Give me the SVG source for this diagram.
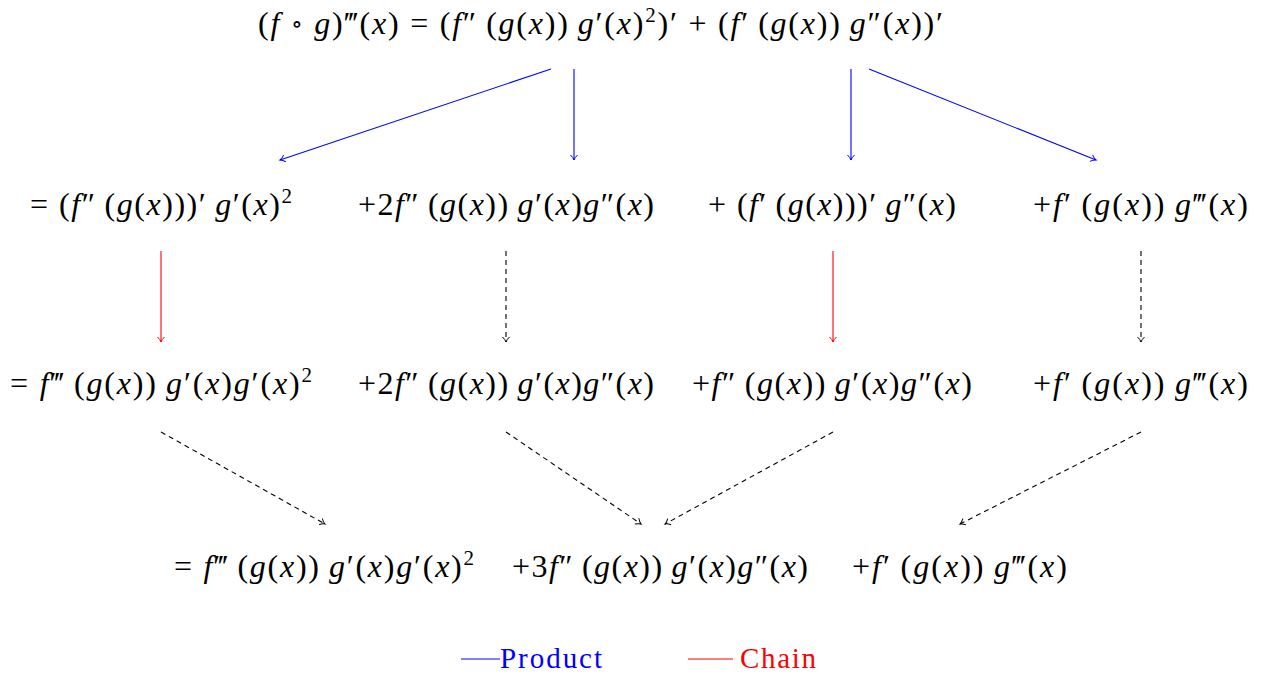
<svg xmlns="http://www.w3.org/2000/svg" width="1266" height="677" viewBox="0 0 1266 677">
<style>
.m{font-family:"Liberation Serif","DejaVu Serif",serif;font-size:32px;fill:#000}
.i{font-style:italic}
.s{font-size:21px}
.c{fill:none;stroke-width:1.1}
.b{stroke:#0000ff}
.r{stroke:#ff0000}
.k{stroke:#000;stroke-dasharray:5 4}
.leg{font-family:"Liberation Serif","DejaVu Serif",serif;font-size:29px}
</style>
<defs>
<marker id="ab" markerWidth="10" markerHeight="10" refX="7" refY="5" orient="auto" markerUnits="userSpaceOnUse"><path d="M2,1.5 Q4.5,4.2 7,5 Q4.5,5.8 2,8.5" fill="none" stroke="#0000ff" stroke-width="1"/></marker>
<marker id="ar" markerWidth="10" markerHeight="10" refX="7" refY="5" orient="auto" markerUnits="userSpaceOnUse"><path d="M2,1.5 Q4.5,4.2 7,5 Q4.5,5.8 2,8.5" fill="none" stroke="#ff0000" stroke-width="1"/></marker>
<marker id="ak" markerWidth="10" markerHeight="10" refX="7" refY="5" orient="auto" markerUnits="userSpaceOnUse"><path d="M2,1.5 Q4.5,4.2 7,5 Q4.5,5.8 2,8.5" fill="none" stroke="#000" stroke-width="1"/></marker>
</defs>

<g id="top">
<text class="m" x="258" y="34" textLength="685">(<tspan class="i">f</tspan> <tspan font-size="24" dy="-2">∘</tspan><tspan dy="2"> </tspan><tspan class="i">g</tspan>)‴(<tspan class="i">x</tspan>) = (<tspan class="i">f</tspan>″&#8201;(<tspan class="i">g</tspan>(<tspan class="i">x</tspan>))&#8201;<tspan class="i">g</tspan>′(<tspan class="i">x</tspan>)<tspan class="s" dy="-12">2</tspan><tspan dy="12">)′ + (</tspan><tspan class="i">f</tspan>′&#8201;(<tspan class="i">g</tspan>(<tspan class="i">x</tspan>))&#8201;<tspan class="i">g</tspan>″(<tspan class="i">x</tspan>))′</text>
</g>

<g id="r1a"><text class="m" x="30" y="215" textLength="262">= (<tspan class="i">f</tspan>″&#8201;(<tspan class="i">g</tspan>(<tspan class="i">x</tspan>)))′&#8201;<tspan class="i">g</tspan>′(<tspan class="i">x</tspan>)<tspan class="s" dy="-12">2</tspan></text></g>
<g id="r1b"><text class="m" x="358" y="215" textLength="296">+2<tspan class="i">f</tspan>″&#8201;(<tspan class="i">g</tspan>(<tspan class="i">x</tspan>))&#8201;<tspan class="i">g</tspan>′(<tspan class="i">x</tspan>)<tspan class="i">g</tspan>″(<tspan class="i">x</tspan>)</text></g>
<g id="r1c"><text class="m" x="708" y="215" textLength="248">+ (<tspan class="i">f</tspan>′&#8201;(<tspan class="i">g</tspan>(<tspan class="i">x</tspan>)))′&#8201;<tspan class="i">g</tspan>″(<tspan class="i">x</tspan>)</text></g>
<g id="r1d"><text class="m" x="1033" y="215" textLength="215">+<tspan class="i">f</tspan>′&#8201;(<tspan class="i">g</tspan>(<tspan class="i">x</tspan>))&#8201;<tspan class="i">g</tspan>‴(<tspan class="i">x</tspan>)</text></g>

<g id="r2a"><text class="m" x="10" y="394" textLength="302">= <tspan class="i">f</tspan>‴&#8201;(<tspan class="i">g</tspan>(<tspan class="i">x</tspan>))&#8201;<tspan class="i">g</tspan>′(<tspan class="i">x</tspan>)<tspan class="i">g</tspan>′(<tspan class="i">x</tspan>)<tspan class="s" dy="-12">2</tspan></text></g>
<g id="r2b"><text class="m" x="358" y="394" textLength="296">+2<tspan class="i">f</tspan>″&#8201;(<tspan class="i">g</tspan>(<tspan class="i">x</tspan>))&#8201;<tspan class="i">g</tspan>′(<tspan class="i">x</tspan>)<tspan class="i">g</tspan>″(<tspan class="i">x</tspan>)</text></g>
<g id="r2c"><text class="m" x="692" y="394" textLength="280">+<tspan class="i">f</tspan>″&#8201;(<tspan class="i">g</tspan>(<tspan class="i">x</tspan>))&#8201;<tspan class="i">g</tspan>′(<tspan class="i">x</tspan>)<tspan class="i">g</tspan>″(<tspan class="i">x</tspan>)</text></g>
<g id="r2d"><text class="m" x="1033" y="394" textLength="215">+<tspan class="i">f</tspan>′&#8201;(<tspan class="i">g</tspan>(<tspan class="i">x</tspan>))&#8201;<tspan class="i">g</tspan>‴(<tspan class="i">x</tspan>)</text></g>

<g id="r3a"><text class="m" x="174" y="577" textLength="300">= <tspan class="i">f</tspan>‴&#8201;(<tspan class="i">g</tspan>(<tspan class="i">x</tspan>))&#8201;<tspan class="i">g</tspan>′(<tspan class="i">x</tspan>)<tspan class="i">g</tspan>′(<tspan class="i">x</tspan>)<tspan class="s" dy="-12">2</tspan></text></g>
<g id="r3b"><text class="m" x="512" y="577" textLength="296">+3<tspan class="i">f</tspan>″&#8201;(<tspan class="i">g</tspan>(<tspan class="i">x</tspan>))&#8201;<tspan class="i">g</tspan>′(<tspan class="i">x</tspan>)<tspan class="i">g</tspan>″(<tspan class="i">x</tspan>)</text></g>
<g id="r3c"><text class="m" x="852" y="577" textLength="215">+<tspan class="i">f</tspan>′&#8201;(<tspan class="i">g</tspan>(<tspan class="i">x</tspan>))&#8201;<tspan class="i">g</tspan>‴(<tspan class="i">x</tspan>)</text></g>

<g id="connectors">
<line class="c b" x1="551" y1="69" x2="280" y2="160" marker-end="url(#ab)"/>
<line class="c b" x1="574" y1="69" x2="574" y2="160" marker-end="url(#ab)"/>
<line class="c b" x1="851" y1="69" x2="851" y2="160" marker-end="url(#ab)"/>
<line class="c b" x1="869" y1="69" x2="1096" y2="160" marker-end="url(#ab)"/>
<line class="c r" x1="161" y1="251" x2="161" y2="342" marker-end="url(#ar)"/>
<line class="c r" x1="833" y1="251" x2="833" y2="342" marker-end="url(#ar)"/>
<line class="c k" x1="506" y1="251" x2="506" y2="342" marker-end="url(#ak)"/>
<line class="c k" x1="1141" y1="251" x2="1141" y2="342" marker-end="url(#ak)"/>
<line class="c k" x1="161" y1="432" x2="325" y2="524" marker-end="url(#ak)"/>
<line class="c k" x1="506" y1="432" x2="641" y2="524" marker-end="url(#ak)"/>
<line class="c k" x1="833" y1="432" x2="665" y2="524" marker-end="url(#ak)"/>
<line class="c k" x1="1141" y1="432" x2="960" y2="524" marker-end="url(#ak)"/>
</g>

<g id="legend">
<line x1="461" y1="659" x2="500" y2="659" stroke="#0000ff" stroke-width="1.1"/>
<text class="leg" x="500" y="668" fill="#0000ff" textLength="102">Product</text>
<line x1="688" y1="659" x2="733" y2="659" stroke="#ff0000" stroke-width="1.1"/>
<text class="leg" x="740" y="668" fill="#ff0000" textLength="76">Chain</text>
</g>
</svg>
